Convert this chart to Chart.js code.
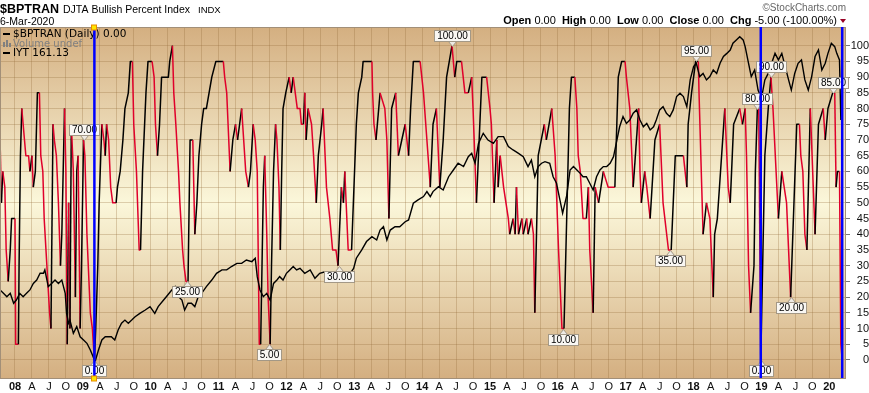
<!DOCTYPE html>
<html>
<head>
<meta charset="utf-8">
<title>$BPTRAN DJTA Bullish Percent Index</title>
<script src="https://cdn.jsdelivr.net/npm/chart.js@4.4.1/dist/chart.umd.min.js"></script>
<style>
  html, body { margin: 0; padding: 0; background: #fff; }
  canvas { display: block; }
</style>
</head>
<body>
<canvas id="bpiChart" width="869" height="393"></canvas>
<script>
// --- Data ---
// $BPTRAN daily readings (date as fractional year, value in %)
const bpiDates = [
  2007.78, 2007.80, 2007.82, 2007.85, 2007.87, 2007.90, 2007.93, 2007.95,
  2008.00, 2008.01, 2008.05, 2008.06, 2008.08, 2008.10, 2008.12, 2008.14, 2008.16, 2008.20,
  2008.22, 2008.25, 2008.27, 2008.30, 2008.33, 2008.36, 2008.38, 2008.41, 2008.43, 2008.47,
  2008.51, 2008.53, 2008.56, 2008.58, 2008.61, 2008.64, 2008.67, 2008.69, 2008.73, 2008.75,
  2008.77, 2008.79, 2008.81, 2008.83, 2008.86, 2008.89, 2008.91, 2008.93, 2008.96, 2008.98,
  2009.01, 2009.03, 2009.06, 2009.09, 2009.11, 2009.14, 2009.17, 2009.19, 2009.22, 2009.24,
  2009.28, 2009.31, 2009.33, 2009.35, 2009.38, 2009.41, 2009.44, 2009.49, 2009.51, 2009.55,
  2009.59, 2009.62, 2009.67, 2009.70, 2009.73, 2009.75, 2009.79, 2009.83, 2009.85, 2009.88,
  2009.93, 2009.96,
  2010.02, 2010.05, 2010.07, 2010.10, 2010.13, 2010.16, 2010.26, 2010.28, 2010.32, 2010.34,
  2010.37, 2010.41, 2010.43, 2010.47, 2010.49, 2010.52, 2010.55, 2010.58, 2010.62, 2010.65,
  2010.68, 2010.71, 2010.75, 2010.78, 2010.82, 2010.86, 2010.90, 2010.96,
  2011.07, 2011.09, 2011.12, 2011.14, 2011.17, 2011.21, 2011.25, 2011.28, 2011.31, 2011.34,
  2011.37, 2011.40, 2011.44, 2011.47, 2011.51, 2011.54, 2011.57, 2011.60, 2011.62, 2011.64,
  2011.66, 2011.68, 2011.71, 2011.73, 2011.76, 2011.78, 2011.81, 2011.84, 2011.86, 2011.89,
  2011.91, 2011.93, 2011.95, 2011.99,
  2012.04, 2012.07, 2012.10, 2012.13, 2012.16, 2012.20, 2012.22, 2012.25, 2012.27, 2012.29,
  2012.32, 2012.37, 2012.40, 2012.44, 2012.47, 2012.52, 2012.54, 2012.57, 2012.59, 2012.64,
  2012.68, 2012.73, 2012.76, 2012.81, 2012.84, 2012.86, 2012.91, 2012.96,
  2013.03, 2013.06, 2013.11, 2013.13, 2013.26, 2013.27, 2013.29, 2013.32, 2013.38, 2013.45,
  2013.48, 2013.51, 2013.55, 2013.61, 2013.65, 2013.70, 2013.75, 2013.80, 2013.83, 2013.87,
  2013.97,
  2014.02, 2014.07, 2014.12, 2014.16, 2014.21, 2014.26, 2014.31, 2014.36, 2014.44, 2014.48,
  2014.51, 2014.58, 2014.63, 2014.68, 2014.73, 2014.75, 2014.80, 2014.88, 2014.95,
  2015.00, 2015.02, 2015.06, 2015.10, 2015.12, 2015.15, 2015.20, 2015.27, 2015.29, 2015.34,
  2015.37, 2015.39, 2015.42, 2015.47, 2015.49, 2015.54, 2015.56, 2015.61, 2015.64, 2015.66,
  2015.71, 2015.80, 2015.83, 2015.87, 2015.91, 2015.96,
  2016.01, 2016.06, 2016.09, 2016.13, 2016.17, 2016.20, 2016.25, 2016.28, 2016.30, 2016.33,
  2016.37, 2016.42, 2016.45, 2016.47, 2016.52, 2016.55, 2016.60, 2016.67, 2016.74, 2016.84,
  2016.89, 2016.94, 2016.99,
  2017.01, 2017.06, 2017.09, 2017.11, 2017.19, 2017.21, 2017.23, 2017.28, 2017.31, 2017.36,
  2017.43, 2017.50, 2017.55, 2017.63, 2017.67, 2017.73, 2017.85, 2017.90, 2017.92, 2017.97,
  2018.03, 2018.07, 2018.08, 2018.12, 2018.14, 2018.19, 2018.24, 2018.29, 2018.31, 2018.35,
  2018.46, 2018.51, 2018.54, 2018.59, 2018.68, 2018.72, 2018.76, 2018.78, 2018.81, 2018.84,
  2018.89, 2018.91, 2018.94, 2018.96, 2018.99,
  2019.05, 2019.10, 2019.14, 2019.17, 2019.25, 2019.30, 2019.37, 2019.43, 2019.52, 2019.56,
  2019.58, 2019.61, 2019.64, 2019.67, 2019.72, 2019.79, 2019.84, 2019.91, 2019.94, 2019.98,
  2020.05, 2020.08, 2020.10, 2020.12, 2020.15, 2020.17, 2020.19
];
const bpiValues = [
  70, 50, 60, 55, 35, 25, 35, 45,
  45, 5, 5, 30, 65, 80, 75, 70, 65, 65,
  60, 65, 55, 60, 85, 85, 65, 60, 45, 30,
  15, 10, 75, 70, 65, 50, 30, 40, 80, 60,
  5, 50, 10, 75, 60, 20, 60, 65, 10, 30,
  70, 65, 40, 25, 15, 10, 0, 10, 30, 50,
  75, 70, 65, 75, 70, 55, 50, 50, 55, 60,
  70, 80, 85, 95, 95, 75, 60, 35, 35, 60,
  85, 95,
  95, 90, 75, 65, 75, 90, 90, 95, 100, 85,
  75, 60, 50, 35, 30, 25, 25, 70, 70, 40,
  50, 65, 75, 80, 80, 85, 90, 95,
  95, 90, 85, 75, 60, 70, 75, 70, 75, 80,
  70, 60, 55, 60, 75, 70, 60, 5, 5, 30,
  55, 65, 40, 20, 5, 30, 60, 75, 70, 55,
  35, 60, 80, 85,
  90, 85, 90, 85, 80, 80, 75, 75, 85, 70,
  80, 75, 65, 50, 65, 75, 80, 65, 55, 45,
  35, 35, 30, 55, 50, 60, 35, 35,
  75, 85, 90, 95, 95, 85, 75, 70, 85, 80,
  70, 45, 80, 85, 65, 70, 75, 65, 80, 95,
  95,
  85, 70, 55, 75, 80, 55, 70, 90, 100, 90,
  95, 95, 85, 85, 90, 80, 50, 90, 90,
  80, 75, 50, 70, 55, 65, 55, 45, 40, 45,
  40, 55, 40, 45, 40, 45, 40, 45, 40, 15,
  65, 75, 70, 75, 80, 65,
  35, 10, 10, 45, 80, 90, 90, 80, 65, 60,
  45, 45, 55, 35, 15, 55, 50, 60, 55, 55,
  90, 95, 95,
  90, 80, 65, 55, 80, 60, 50, 60, 55, 45,
  70, 75, 50, 35, 35, 65, 65, 55, 75, 85,
  95, 95, 85, 55, 40, 50, 45, 20, 40, 45,
  80, 55, 50, 75, 80, 75, 80, 65, 30, 15,
  30, 60, 80, 80, 0,
  65, 80, 90, 80, 45, 60, 50, 20, 75, 75,
  65, 60, 40, 35, 80, 40, 75, 80, 70, 80,
  85, 85, 55, 60, 60, 5, 0
];

// IYT overlay (price, read against its own hidden scale)
const iytDates = [
  2007.78, 2007.83, 2007.88, 2007.93, 2007.98,
  2008.02, 2008.07, 2008.12, 2008.17, 2008.22, 2008.27, 2008.32, 2008.37, 2008.42, 2008.44,
  2008.49, 2008.54, 2008.59, 2008.64, 2008.69, 2008.74, 2008.76, 2008.79, 2008.81, 2008.86,
  2008.91, 2008.96,
  2009.01, 2009.06, 2009.11, 2009.15, 2009.18, 2009.23, 2009.28, 2009.33, 2009.38, 2009.42,
  2009.47, 2009.52, 2009.57, 2009.62, 2009.67, 2009.72, 2009.77, 2009.84, 2009.92, 2009.99,
  2010.06, 2010.11, 2010.19, 2010.23, 2010.31, 2010.36, 2010.41, 2010.46, 2010.50, 2010.55,
  2010.60, 2010.65, 2010.70, 2010.75, 2010.82, 2010.90, 2010.97,
  2011.05, 2011.12, 2011.19, 2011.27, 2011.34, 2011.41, 2011.49, 2011.54, 2011.57, 2011.61,
  2011.66, 2011.71, 2011.76, 2011.81, 2011.86, 2011.90, 2011.95,
  2012.00, 2012.05, 2012.10, 2012.15, 2012.20, 2012.27, 2012.35, 2012.42, 2012.49, 2012.57,
  2012.64, 2012.72, 2012.79, 2012.86, 2012.94, 2012.99,
  2013.03, 2013.11, 2013.18, 2013.26, 2013.33, 2013.38, 2013.43, 2013.48, 2013.53, 2013.60,
  2013.67, 2013.75, 2013.80, 2013.87, 2013.94,
  2014.02, 2014.07, 2014.12, 2014.16, 2014.24, 2014.31, 2014.39, 2014.46, 2014.53, 2014.61,
  2014.68, 2014.73, 2014.78, 2014.83, 2014.90, 2014.97,
  2015.05, 2015.12, 2015.20, 2015.27, 2015.34, 2015.42, 2015.49, 2015.56, 2015.61, 2015.66,
  2015.71, 2015.76, 2015.81, 2015.88, 2015.93, 2015.98,
  2016.03, 2016.07, 2016.13, 2016.18, 2016.23, 2016.28, 2016.33, 2016.37, 2016.42, 2016.47,
  2016.52, 2016.57, 2016.62, 2016.67, 2016.72, 2016.77, 2016.82, 2016.87, 2016.91, 2016.96,
  2017.01, 2017.06, 2017.11, 2017.16, 2017.21, 2017.26, 2017.31, 2017.36, 2017.41, 2017.45,
  2017.50, 2017.55, 2017.60, 2017.65, 2017.70, 2017.75, 2017.80, 2017.85, 2017.90, 2017.95,
  2018.00, 2018.04, 2018.09, 2018.14, 2018.19, 2018.24, 2018.29, 2018.34, 2018.39, 2018.44,
  2018.49, 2018.54, 2018.58, 2018.63, 2018.68, 2018.73, 2018.76, 2018.81, 2018.85, 2018.90,
  2018.95,
  2019.00, 2019.05, 2019.10, 2019.15, 2019.20, 2019.25, 2019.30, 2019.35, 2019.40, 2019.44,
  2019.49, 2019.54, 2019.59, 2019.64, 2019.69, 2019.74, 2019.79, 2019.84, 2019.89, 2019.94,
  2019.98,
  2020.03, 2020.08, 2020.11, 2020.15, 2020.17
];
const iytValues = [
  82.4, 80.7, 79.0, 80.7, 75.7,
  77.3, 80.7, 79.0, 80.7, 82.4, 85.7, 87.4, 90.8, 90.8, 92.5,
  84.1, 85.7, 87.4, 85.7, 87.4, 80.7, 70.6, 65.6, 67.2, 60.5,
  63.9, 58.8,
  57.2, 55.5, 52.1, 48.8, 46.2, 52.1, 57.2, 58.8, 58.8, 58.8,
  57.2, 62.2, 65.6, 67.2, 65.6, 67.2, 68.9, 70.6, 72.3, 74.0,
  70.6, 74.0, 77.3, 79.0, 82.4, 84.1, 79.0, 77.3, 72.3, 75.7,
  75.7, 74.0, 79.0, 80.7, 84.1, 87.4, 90.8,
  92.5, 92.5, 94.2, 95.8, 95.8, 97.5, 96.7, 98.4, 89.1, 82.4,
  79.0, 80.7, 77.3, 85.7, 87.4, 89.1, 87.4,
  90.8, 92.5, 94.2, 92.5, 93.3, 90.8, 92.5, 88.3, 90.8, 91.6,
  90.8, 91.6, 90.8, 90.8, 90.8, 93.3,
  98.4, 102.6, 106.8, 109.3, 107.6, 112.6, 114.3, 107.6, 112.6, 114.3,
  114.3, 116.8, 117.7, 126.1, 127.8,
  129.5, 132.0, 129.5, 132.0, 134.5, 132.8, 139.5, 142.9, 146.3, 144.6,
  149.6, 151.3, 146.3, 156.3, 161.4, 158.0,
  156.3, 159.7, 159.7, 154.7, 153.0, 151.3, 149.6, 144.6, 147.9, 139.5,
  144.6, 146.3, 147.1, 146.3, 139.5, 136.2,
  127.8, 121.1, 130.0, 142.9, 144.6, 142.9, 141.2, 139.5, 139.5, 136.2,
  132.8, 139.5, 142.9, 144.6, 144.6, 146.3, 149.6, 158.0, 164.7, 169.8,
  166.4, 168.1, 171.5, 173.2, 168.1, 164.7, 166.4, 163.1, 164.7, 168.1,
  173.2, 174.8, 171.5, 169.8, 173.2, 179.9, 181.6, 179.9, 174.8, 188.3,
  195.0, 196.7, 190.0, 191.6, 188.3, 190.0, 193.3, 191.6, 196.7, 200.1,
  201.7, 203.4, 206.8, 208.5, 210.1, 208.5, 205.1, 196.7, 190.0, 193.3,
  183.2,
  179.0, 188.3, 191.6, 196.7, 201.7, 198.4, 201.7, 195.0, 188.3, 183.2,
  191.6, 196.7, 198.4, 188.3, 183.2, 190.0, 200.1, 203.4, 193.3, 196.7,
  201.7,
  206.8, 205.1, 201.7, 198.4, 168.1
];

// Price labels StockCharts put on the turning points
const noteDates  = [2009.01, 2009.17, 2010.54, 2011.74, 2012.77, 2014.44, 2016.08, 2017.65, 2018.04, 2018.93, 2018.99, 2019.14, 2019.43, 2020.05];
const noteValues = [70, 0, 25, 5, 30, 100, 10, 35, 95, 80, 0, 90, 20, 85];
const noteSides  = ['up', 'down', 'down', 'down', 'down', 'up', 'down', 'down', 'up', 'up', 'down', 'up', 'down', 'up'];

// Blue vertical marker lines
const markerDates = [2009.17, 2018.99, 2020.19];

// Axis ticks
const yTicks = [0, 5, 10, 15, 20, 25, 30, 35, 40, 45, 50, 55, 60, 65, 70, 75, 80, 85, 90, 95, 100];
const tickYears = [2008, 2009, 2010, 2011, 2012, 2013, 2014, 2015, 2016, 2017, 2018, 2019, 2020];
const quarterLabels = ['', 'A', 'J', 'O'];

const RED = '#E0002B';
const FONT = '"Liberation Sans", Arial, sans-serif';
const LEGEND_FONT = '"DejaVu Sans", Verdana, sans-serif';

// colour each BPI segment: red while falling, black while rising, flats keep the last colour
const bpiSegColors = [];
let lastColor = '#000';
for (let i = 0; i < bpiValues.length - 1; i++) {
    if (bpiValues[i + 1] < bpiValues[i]) lastColor = RED;
    else if (bpiValues[i + 1] > bpiValues[i]) lastColor = '#000';
    bpiSegColors.push(lastColor);
}

const bpiData = bpiDates.map((d, i) => ({ x: d, y: bpiValues[i] }));
const iytData = iytDates.map((d, i) => ({ x: d, y: iytValues[i] }));

function drawHeader(ctx) {
    ctx.save();
    ctx.textAlign = 'left';
    ctx.textBaseline = 'alphabetic';
    ctx.fillStyle = '#000';
    ctx.font = 'bold 12.5px ' + FONT;
    ctx.fillText('$BPTRAN', 0, 13);
    ctx.font = '10.5px ' + FONT;
    ctx.fillText('DJTA Bullish Percent Index', 63, 13);
    ctx.font = '9.5px ' + FONT;
    ctx.fillText('INDX', 198, 13);
    ctx.font = '10.5px ' + FONT;
    ctx.fillText('6-Mar-2020', 0, 25);

    ctx.fillStyle = '#666';
    ctx.textAlign = 'right';
    ctx.font = '10px ' + FONT;
    ctx.fillText('\u00A9StockCharts.com', 846, 11);

    // OHLC line, right aligned
    const parts = [
        ['Open', true], [' 0.00  ', false], ['High', true], [' 0.00  ', false],
        ['Low', true], [' 0.00  ', false], ['Close', true], [' 0.00  ', false],
        ['Chg', true], [' -5.00 (-100.00%)', false]
    ];
    let total = 0;
    parts.forEach(p => {
        ctx.font = (p[1] ? 'bold ' : '') + '11px ' + FONT;
        total += ctx.measureText(p[0]).width;
    });
    let x = 837 - total;
    ctx.textAlign = 'left';
    ctx.fillStyle = '#000';
    parts.forEach(p => {
        ctx.font = (p[1] ? 'bold ' : '') + '11px ' + FONT;
        ctx.fillText(p[0], x, 24);
        x += ctx.measureText(p[0]).width;
    });
    ctx.fillStyle = '#990024';
    ctx.beginPath();
    ctx.moveTo(840, 19); ctx.lineTo(846, 19); ctx.lineTo(843, 23);
    ctx.closePath();
    ctx.fill();
    ctx.restore();
}

function drawLegend(ctx, a) {
    ctx.save();
    ctx.textAlign = 'left';
    ctx.textBaseline = 'middle';
    ctx.font = '10.5px ' + LEGEND_FONT;
    ctx.fillStyle = '#000';
    ctx.fillRect(a.left + 3, a.top + 6, 7, 2);
    ctx.fillText('$BPTRAN (Daily) 0.00', a.left + 13, a.top + 7.5);
    ctx.fillStyle = '#808080';
    ctx.fillRect(a.left + 3, a.top + 15, 2, 5);
    ctx.fillRect(a.left + 6, a.top + 13, 2, 7);
    ctx.fillRect(a.left + 9, a.top + 16, 2, 4);
    ctx.font = '10px ' + LEGEND_FONT;
    ctx.fillText('Volume undef', a.left + 13, a.top + 17);
    ctx.fillStyle = '#000';
    ctx.font = '10.5px ' + LEGEND_FONT;
    ctx.fillRect(a.left + 3, a.top + 25, 7, 2);
    ctx.fillText('IYT 161.13', a.left + 13, a.top + 26);
    ctx.restore();
}

function drawNotes(ctx, xs, ys) {
    ctx.save();
    ctx.font = '10px ' + FONT;
    ctx.textAlign = 'center';
    ctx.textBaseline = 'middle';
    noteDates.forEach((d, i) => {
        const px = Math.round(xs.getPixelForValue(d)) + 0.5;
        const py = Math.round(ys.getPixelForValue(noteValues[i])) + 0.5;
        const txt = noteValues[i].toFixed(2);
        const w = Math.round(ctx.measureText(txt).width) + 5;
        const h = 11;
        const dir = noteSides[i] === 'up' ? -1 : 1;
        const edge = py + dir * 5;
        const top = dir < 0 ? edge - h : edge;
        // pointer
        ctx.beginPath();
        ctx.moveTo(px - 4, edge);
        ctx.lineTo(px, py);
        ctx.lineTo(px + 4, edge);
        ctx.closePath();
        ctx.fillStyle = '#EEEAE4';
        ctx.fill();
        ctx.strokeStyle = '#A39886';
        ctx.lineWidth = 1;
        ctx.stroke();
        // box
        ctx.fillStyle = '#F9F7F3';
        ctx.fillRect(px - w / 2, top, w, h);
        ctx.strokeRect(px - w / 2, top, w, h);
        ctx.fillStyle = '#000';
        ctx.fillText(txt, px, top + h / 2 + 0.5);
    });
    ctx.restore();
}

const stockchartsLook = {
    id: 'stockchartsLook',
    beforeDraw(chart) {
        const { ctx, chartArea: a } = chart;
        ctx.save();
        ctx.fillStyle = '#fff';
        ctx.fillRect(0, 0, chart.width, chart.height);
        const g = ctx.createLinearGradient(0, a.top, 0, a.bottom);
        g.addColorStop(0, '#D4AF81');
        g.addColorStop(0.5, '#FBF7DA');
        g.addColorStop(1, '#D4AF81');
        ctx.fillStyle = g;
        ctx.fillRect(a.left, a.top, a.right - a.left, a.bottom - a.top);
        ctx.restore();
    },
    afterDraw(chart) {
        const { ctx, chartArea: a, scales } = chart;
        drawHeader(ctx);
        // plot frame
        ctx.save();
        ctx.strokeStyle = '#A28F78';
        ctx.lineWidth = 1;
        ctx.strokeRect(a.left + 0.5, a.top + 0.5, a.right - a.left - 1, a.bottom - a.top);
        ctx.restore();
        drawLegend(ctx, a);
        drawNotes(ctx, scales.x, scales.y);
        // blue markers
        ctx.save();
        ctx.strokeStyle = '#0000FF';
        ctx.lineWidth = 2.5;
        markerDates.forEach(d => {
            const px = scales.x.getPixelForValue(d);
            ctx.beginPath();
            ctx.moveTo(px, a.top);
            ctx.lineTo(px, a.bottom);
            ctx.stroke();
        });
        // handles on the first marker
        const hx = Math.round(scales.x.getPixelForValue(markerDates[0]));
        ctx.fillStyle = '#FFE600';
        ctx.strokeStyle = '#E88A00';
        ctx.lineWidth = 1;
        [a.top - 2, a.bottom - 2].forEach(hy => {
            ctx.fillRect(hx - 2.5, hy, 5, 5);
            ctx.strokeRect(hx - 2.5, hy, 5, 5);
        });
        ctx.restore();
    }
};

const gridColor = 'rgba(150, 110, 60, 0.30)';

new Chart(document.getElementById('bpiChart'), {
    type: 'line',
    data: {
        datasets: [
            {
                label: 'IYT',
                data: iytData,
                yAxisID: 'yP',
                borderColor: '#000',
                borderWidth: 1.4,
                pointRadius: 0,
                tension: 0,
                order: 0
            },
            {
                label: '$BPTRAN',
                data: bpiData,
                yAxisID: 'y',
                borderColor: '#000',
                borderWidth: 1.5,
                borderJoinStyle: 'round',
                pointRadius: 0,
                tension: 0,
                order: 1,
                segment: {
                    borderColor: ctx => bpiSegColors[ctx.p0DataIndex]
                }
            }
        ]
    },
    options: {
        responsive: false,
        animation: false,
        devicePixelRatio: 1,
        layout: { padding: { top: 27, left: 0, right: 0, bottom: 0 } },
        plugins: {
            legend: { display: false },
            tooltip: { enabled: false }
        },
        scales: {
            x: {
                type: 'linear',
                min: 2007.779,
                max: 2020.246,
                afterBuildTicks: (axis) => {
                    const t = [];
                    tickYears.forEach(yr => {
                        for (let q = 0; q < 4; q++) {
                            const v = yr + q * 0.25;
                            if (v <= axis.max) t.push({ value: v });
                        }
                    });
                    axis.ticks = t;
                },
                afterFit: (axis) => { axis.height = 15; },
                grid: { color: gridColor, drawTicks: false },
                border: { display: false },
                ticks: {
                    autoSkip: false,
                    maxRotation: 0,
                    minRotation: 0,
                    padding: 2,
                    color: '#111',
                    font: (ctx) => {
                        const qi = ctx.tick ? Math.round(ctx.tick.value * 4) % 4 : 1;
                        return { family: FONT, size: 11, weight: qi === 0 ? 'bold' : 'normal' };
                    },
                    callback: (value) => {
                        const qi = Math.round(value * 4);
                        const q = qi % 4;
                        return q === 0 ? String(Math.floor(qi / 4)).slice(2) : quarterLabels[q];
                    }
                }
            },
            y: {
                position: 'right',
                min: -5.73,
                max: 105.95,
                afterBuildTicks: (axis) => { axis.ticks = yTicks.map(v => ({ value: v })); },
                afterFit: (axis) => { axis.width = 23; },
                grid: { color: gridColor, tickColor: '#777', tickLength: 4 },
                border: { display: false },
                ticks: {
                    crossAlign: 'far',
                    padding: 0,
                    color: '#111',
                    font: { family: FONT, size: 11 },
                    callback: (value) => String(value)
                }
            },
            yP: {
                display: false,
                min: 38,
                max: 215
            }
        }
    },
    plugins: [stockchartsLook]
});
</script>
</body>
</html>
